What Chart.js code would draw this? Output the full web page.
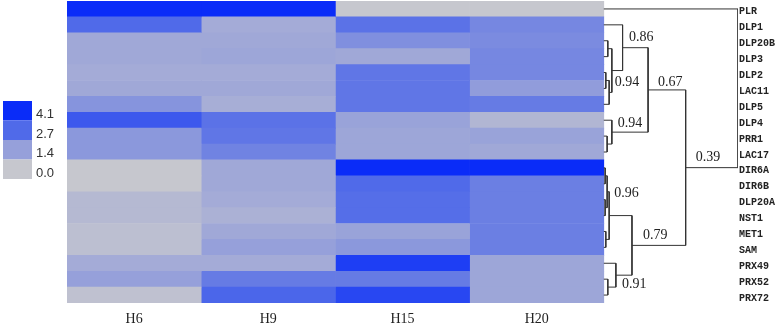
<!DOCTYPE html>
<html><head><meta charset="utf-8">
<script src="https://cdn.jsdelivr.net/npm/chart.js@4/dist/chart.umd.min.js"></script>
<style>html,body{margin:0;padding:0;background:#fff;}canvas{display:block;}</style>
</head><body>
<canvas id="c" width="778" height="325"></canvas>
<script>
// ---------- data ----------
const columns = ['H6', 'H9', 'H15', 'H20'];
const genes = ['PLR','DLP1','DLP20B','DLP3','DLP2','LAC11','DLP5','DLP4','PRR1','LAC17',
               'DIR6A','DIR6B','DLP20A','NST1','MET1','SAM','PRX49','PRX52','PRX72'];
const valH6  = [4.1, 2.7, 1.1, 1.1, 1.0, 1.1, 1.7, 3.1, 1.6, 1.6, 0.0, 0.0, 0.5, 0.5, 0.3, 0.3, 1.0, 1.4, 0.2];
const valH9  = [4.1, 1.0, 1.1, 1.2, 1.0, 1.1, 0.9, 2.5, 2.4, 2.1, 1.1, 1.1, 1.0, 0.8, 1.1, 1.4, 1.0, 2.3, 2.8];
const valH15 = [0.0, 2.5, 1.8, 1.1, 2.4, 2.4, 2.4, 1.3, 1.2, 1.2, 4.1, 2.7, 2.6, 2.6, 1.3, 1.6, 3.7, 2.3, 3.5];
const valH20 = [0.0, 2.0, 1.9, 2.0, 2.0, 1.5, 2.3, 0.6, 1.3, 1.1, 4.1, 2.2, 2.2, 2.2, 2.2, 2.2, 1.2, 1.2, 1.2];
const legendValues = [4.1, 2.7, 1.4, 0.0];
const legendLabels = ['4.1', '2.7', '1.4', '0.0'];

// dendrogram merges: child A, child B (gene index or 'mK' = merge K), similarity
const dendroA   = [2, 4, 'm1', 'm0', 1, 8, 7, 'm4', 10, 12, 'm8', 14, 'm10', 17, 16, 'm12', 'm7', 0];
const dendroB   = [3, 5, 6, 'm2', 'm3', 9, 'm5', 'm6', 11, 13, 'm9', 15, 'm11', 18, 'm13', 'm14', 'm15', 'm16'];
const dendroSim = [0.97, 0.985, 0.96, 0.94, 0.86, 0.975, 0.94, 0.67, 0.99, 0.99, 0.975, 0.985, 0.96, 0.97, 0.91, 0.79, 0.39, 0.0];
const dendroShown = [false,false,false,true,true,false,true,true,false,false,false,false,true,false,true,true,true,false];

// ---------- style ----------
const labelDx = [0,0,0,3,6.5,0,6,10,0,0,0,0,5,0,6,11,10,0];
const labelDy = [0,0,0,11.5,-10,0,-9,-8,0,0,0,0,-22,0,9.5,-10,-10,0];
const stopVals = [0, 1.4, 2.7, 4.1];
const stopRGB = [[198,199,206],[150,160,218],[80,106,233],[10,44,248]];
function colorFor(v){
  let i = 0;
  while (i < stopVals.length - 2 && v > stopVals[i+1]) i++;
  const t = Math.max(0, Math.min(1, (v - stopVals[i]) / (stopVals[i+1] - stopVals[i])));
  const c = stopRGB[i].map((a, k) => Math.round(a + (stopRGB[i+1][k] - a) * t));
  return `rgb(${c[0]},${c[1]},${c[2]})`;
}

// ---------- build ----------
const colValues = [valH6, valH9, valH15, valH20];
const LEAF_X = columns.length;
const merged = [];
function nodePos(ref){ return typeof ref === 'number' ? {x: LEAF_X, y: ref} : merged[+ref.slice(1)]; }
dendroA.forEach((a, k) => {
  const A = nodePos(a), B = nodePos(dendroB[k]);
  merged[k] = {x: LEAF_X + (1 - dendroSim[k]), y: (A.y + B.y) / 2, A, B};
});

const barSets = colValues.map((vals, j) => ({
  type: 'bar',
  label: columns[j],
  data: vals.map((v, i) => ({y: i, x: [j, j + 1]})),
  backgroundColor: vals.map(colorFor),
  borderWidth: 0,
  grouped: false,
  barPercentage: 1,
  categoryPercentage: 1,
  order: 2
}));
const lineSets = merged.map(m => ({
  type: 'line',
  data: [{x: m.A.x, y: m.A.y}, {x: m.x, y: m.A.y}, {x: m.x, y: m.B.y}, {x: m.B.x, y: m.B.y}],
  borderColor: '#333',
  borderWidth: 1,
  pointRadius: 0,
  fill: false,
  tension: 0,
  order: 1
}));

const legendPlugin = {
  id: 'heatLegend',
  afterDraw(chart){
    const ctx = chart.ctx;
    ctx.save();
    const h = 19.5;
    legendValues.forEach((v, i) => {
      const top = 101 + i * h;
      ctx.fillStyle = colorFor(v);
      ctx.fillRect(3, top, 29, h);
      ctx.fillStyle = '#333';
      ctx.font = '13px "Liberation Sans", Arial, sans-serif';
      ctx.textAlign = 'left';
      ctx.textBaseline = 'middle';
      ctx.fillText(legendLabels[i], 36, top + h / 2 + 4);
    });
    ctx.restore();
  }
};
const dendroLabels = {
  id: 'dendroLabels',
  afterDatasetsDraw(chart){
    const ctx = chart.ctx, xs = chart.scales.x, ys = chart.scales.y;
    ctx.save();
    ctx.fillStyle = '#222';
    ctx.font = '14px "Liberation Serif", "Times New Roman", serif';
    ctx.textAlign = 'left';
    ctx.textBaseline = 'middle';
    merged.forEach((m, k) => {
      if (!dendroShown[k]) return;
      ctx.fillText(dendroSim[k].toFixed(2), xs.getPixelForValue(m.x) + labelDx[k], ys.getPixelForValue(m.y) + labelDy[k]);
    });
    ctx.restore();
  }
};

new Chart(document.getElementById('c'), {
  type: 'bar',
  data: {datasets: [...lineSets, ...barSets]},
  plugins: [legendPlugin, dendroLabels],
  options: {
    responsive: false,
    animation: false,
    events: [],
    indexAxis: 'y',
    layout: {padding: {left: 67, top: 1, right: 0, bottom: 0}},
    plugins: {legend: {display: false}, tooltip: {enabled: false}},
    scales: {
      x: {
        type: 'linear', min: 0, max: 5, offset: false,
        grid: {display: false, drawTicks: false, offset: false},
        border: {display: false},
        ticks: {
          padding: 8, autoSkip: false, maxRotation: 0, color: '#222',
          font: {family: '"Liberation Serif", "Times New Roman", serif', size: 14},
          callback: (v, i) => columns[i]
        },
        afterBuildTicks: s => { s.ticks = columns.map((c, i) => ({value: i + 0.5})); },
        afterFit: s => { s.height = 22; s.paddingLeft = 0; s.paddingRight = 0; }
      },
      y: {
        type: 'linear', position: 'right', reverse: true, min: -0.5, max: 18.5, offset: false,
        grid: {display: false, drawTicks: false, offset: false},
        border: {display: false},
        ticks: {
          padding: 1, labelOffset: 3, autoSkip: false, color: '#222',
          font: {family: '"Liberation Mono", "Courier New", monospace', size: 10, weight: 'bold'},
          callback: (v, i) => genes[i]
        },
        afterBuildTicks: s => { s.ticks = genes.map((g, i) => ({value: i})); },
        afterFit: s => { s.width = 40; s.paddingTop = 0; s.paddingBottom = 0; }
      }
    }
  }
});
</script>
</body></html>
